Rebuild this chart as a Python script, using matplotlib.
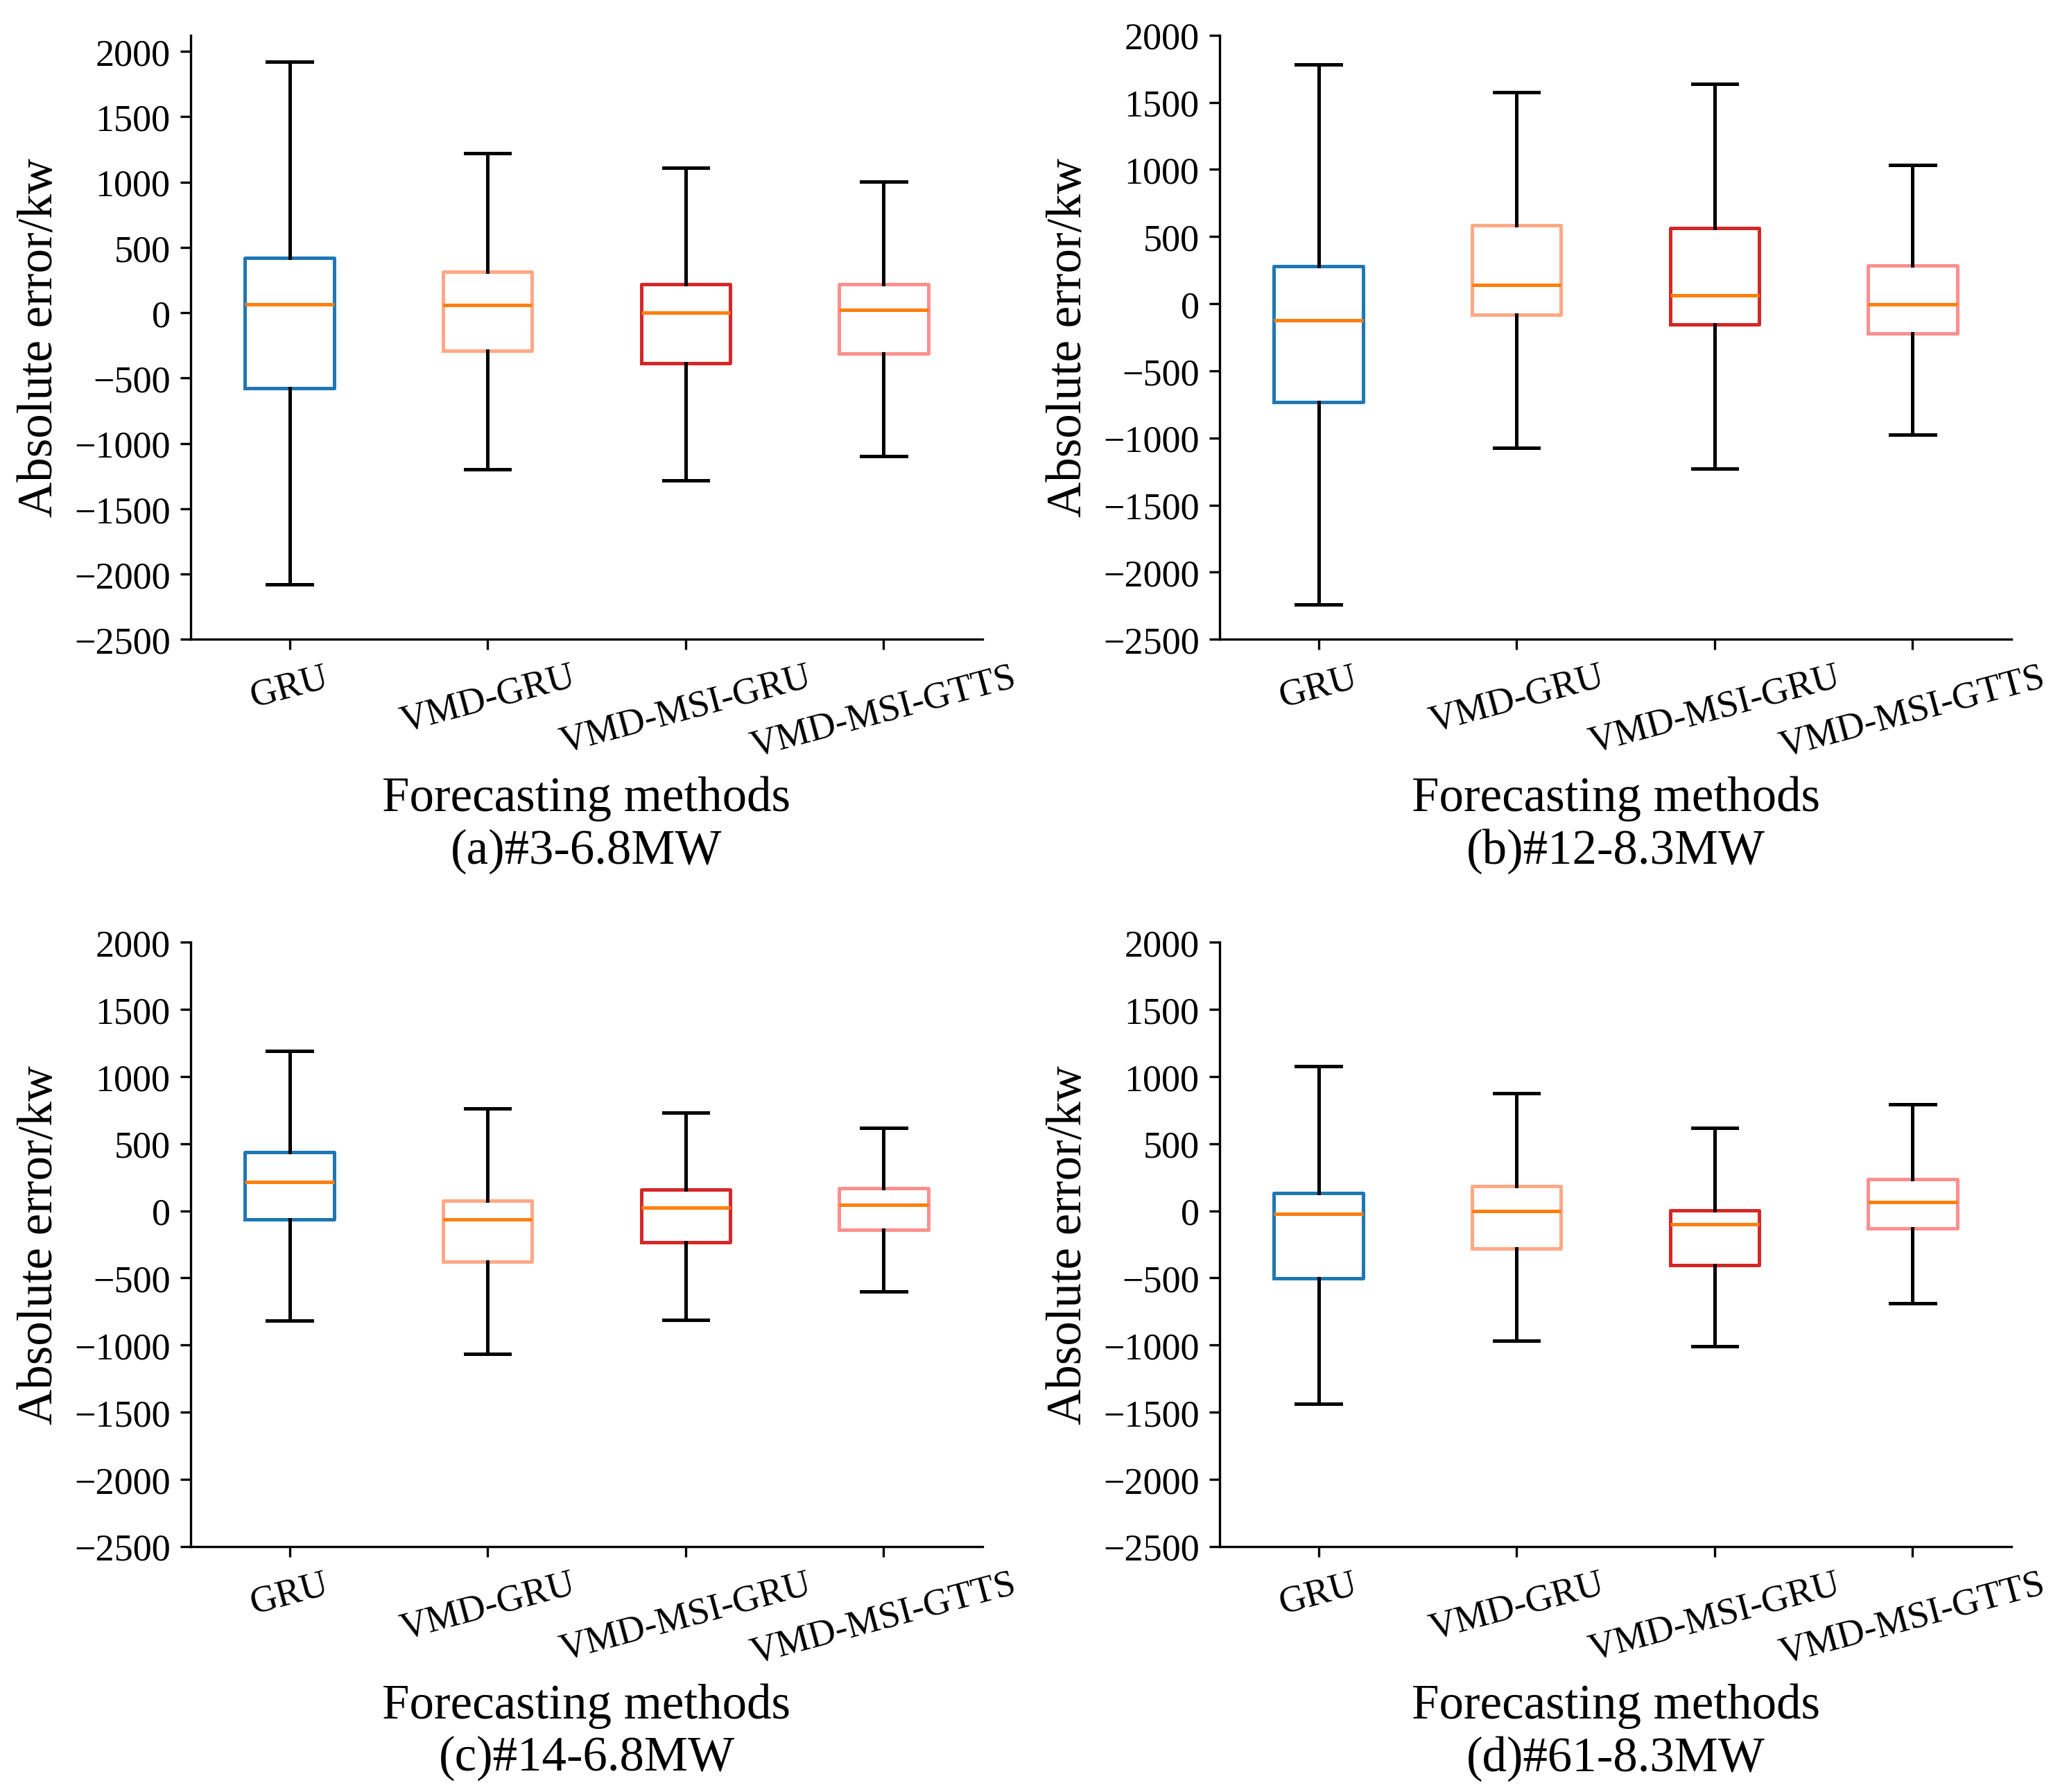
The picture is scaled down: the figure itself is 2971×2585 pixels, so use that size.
import numpy as np
import matplotlib
matplotlib.use('Agg')
import matplotlib.pyplot as plt

plt.rcParams['font.family'] = ['Liberation Serif', 'DejaVu Serif']

methods = ['GRU', 'VMD-GRU', 'VMD-MSI-GRU', 'VMD-MSI-GTTS']
colors = ['#1f77b4', '#ffa886', '#d62728', '#ff8f8f']

# per panel: [whislo, q1, med, q3, whishi] for each method
stats_a = [[-2080, -578, 67, 420, 1922],
           [-1199, -289, 61, 313, 1220],
           [-1281, -386, 3, 216, 1111],
           [-1096, -310, 21, 216, 1004]]
stats_b = [[-2239, -735, -124, 278, 1781],
           [-1075, -80, 139, 582, 1577],
           [-1229, -157, 62, 561, 1639],
           [-975, -221, -3, 284, 1034]]
stats_c = [[-820, -65, 213, 438, 1192],
           [-1065, -379, -62, 77, 760],
           [-811, -234, 24, 157, 731],
           [-601, -142, 44, 166, 618]]
stats_d = [[-1436, -503, -21, 133, 1075],
           [-967, -279, 0, 185, 873],
           [-1010, -404, -99, 4, 615],
           [-688, -133, 64, 236, 791]]

captions = ['(a)#3-6.8MW', '(b)#12-8.3MW', '(c)#14-6.8MW', '(d)#61-8.3MW']
ytop = [2125, 2000, 2000, 2000]
yticks = np.arange(-2500, 2001, 500)

fig = plt.figure(figsize=(2971 / 300, 2586 / 300), dpi=300)
rects = [[0.0925, 0.643, 0.3845, 0.337],
         [0.592, 0.643, 0.3845, 0.337],
         [0.0925, 0.137, 0.3845, 0.337],
         [0.592, 0.137, 0.3845, 0.337]]

for rect, stats, cap, top in zip(rects, [stats_a, stats_b, stats_c, stats_d], captions, ytop):
    ax = fig.add_axes(rect)
    bxp = []
    for s, m in zip(stats, methods):
        bxp.append({'whislo': s[0], 'q1': s[1], 'med': s[2], 'q3': s[3],
                    'whishi': s[4], 'label': m, 'fliers': []})
    bp = ax.bxp(bxp, positions=[1, 2, 3, 4], widths=0.45, showfliers=False,
                medianprops=dict(color='#ff7f0e', linewidth=1.2),
                whiskerprops=dict(color='black', linewidth=1.2),
                capprops=dict(color='black', linewidth=1.2),
                boxprops=dict(linewidth=1.2))
    for box, c in zip(bp['boxes'], colors):
        box.set_color(c)
    ax.set_xlim(0.5, 4.5)
    ax.set_ylim(-2500, top)
    ax.set_yticks(yticks)
    ax.tick_params(axis='both', labelsize=13)
    ax.set_xticks([1, 2, 3, 4])
    ax.set_xticklabels(methods, rotation=15, ha='center')
    ax.spines['top'].set_visible(False)
    ax.spines['right'].set_visible(False)
    ax.set_ylabel('Absolute error/kw', fontsize=17)
    ax.set_xlabel('Forecasting methods\n' + cap, fontsize=17)

fig.savefig('out.png', dpi=300)
